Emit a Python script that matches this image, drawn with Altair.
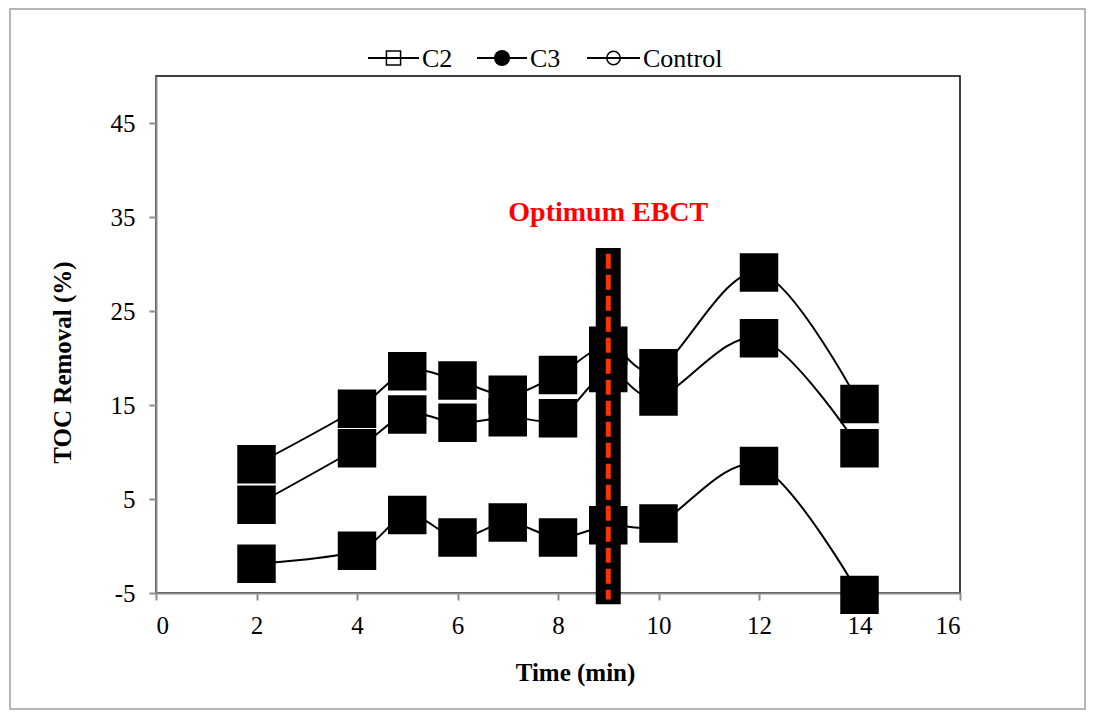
import altair as alt
import pandas as pd

# ---- data ----
time_min = [2, 4, 5, 6, 7, 8, 9, 10, 12, 14]
c2 = [8.7, 14.6, 18.6, 17.6, 16.1, 18.2, 21.3, 18.9, 29.1, 15.1]
c3 = [4.4, 10.4, 14.0, 13.1, 13.7, 13.6, 18.4, 15.9, 22.1, 10.4]
control = [-1.9, -0.5, 3.3, 0.9, 2.5, 0.9, 2.2, 2.4, 8.5, -5.2]
series_names = ["C2", "C3", "Control"]
x_ticks = [0, 2, 4, 6, 8, 10, 12, 14, 16]
y_ticks = [-5, 5, 15, 25, 35, 45]
optimum_time = 9
annotation_text = "Optimum EBCT"

rows = []
for name, vals in zip(series_names, [c2, c3, control]):
    for t, v in zip(time_min, vals):
        rows.append({"series": name, "time": t, "toc": v})
df = pd.DataFrame(rows)

W, H = 804, 517
FONT = "Liberation Serif"
AXIS_GRAY = "#8c8c8c"

x_enc = alt.X(
    "time:Q",
    scale=alt.Scale(domain=[0, 16], nice=False, zero=False),
    axis=alt.Axis(values=x_ticks, title="Time (min)", labelExpr="datum.value + ''",
                  titleX=419, titleY=79, titleBaseline="middle", titleAlign="center",
                  labelPadding=13),
)
y_enc = alt.Y(
    "toc:Q",
    scale=alt.Scale(domain=[-5, 50], nice=False, zero=False),
    axis=alt.Axis(values=y_ticks, title="TOC Removal (%)", labelExpr="datum.value + ''",
                  titleX=-94, titleY=286, titleAngle=-90, titleBaseline="middle",
                  titleAlign="center", labelPadding=14),
)

base = alt.Chart(df)
lines = base.mark_line(interpolate="cardinal", color="black", strokeWidth=2, clip=False).encode(
    x=x_enc, y=y_enc, detail="series:N"
)
points = base.mark_point(shape="square", size=1480, filled=True, color="black",
                         opacity=1, clip=False).encode(x="time:Q", y="toc:Q", detail="series:N")

one = alt.Chart(pd.DataFrame({"k": [0]}))

bar = one.mark_rule(color="black", strokeWidth=25, clip=False).encode(
    x=alt.datum(optimum_time), y=alt.datum(31.7), y2=alt.datum(-6.2)
)
dash = one.mark_rule(color="#ff3300", strokeWidth=5, strokeDash=[15, 6], clip=False).encode(
    x=alt.datum(optimum_time), y=alt.datum(31.1), y2=alt.datum(-5.7)
)
label = one.mark_text(font=FONT, fontSize=28, fontWeight="bold", color="#ff0000",
                      align="center", baseline="middle").encode(
    x=alt.datum(optimum_time), y=alt.datum(35.4), text=alt.value(annotation_text)
)

# legend (manual, drawn above the plot)
legend_layers = []
legend_spec = [
    ("C2", 212, 263, "square", False, 200),
    ("C3", 321, 371, "circle", True, 260),
    ("Control", 431, 484, "circle", False, 180),
]
LY = -18
for name, x0, x1, shape, filled, size in legend_spec:
    legend_layers.append(one.mark_rule(color="black", strokeWidth=2).encode(
        x=alt.value(x0), x2=alt.value(x1), y=alt.value(LY)))
    legend_layers.append(one.mark_point(shape=shape, size=size, filled=filled, color="black",
                                        strokeWidth=1.5, opacity=1).encode(
        x=alt.value((x0 + x1) / 2), y=alt.value(LY)))
    legend_layers.append(one.mark_text(font=FONT, fontSize=26, align="left", baseline="middle",
                                       color="black").encode(
        x=alt.value(x1 + 3), y=alt.value(LY + 1), text=alt.value(name)))

border = one.mark_rect(fillOpacity=0, stroke="#a0a0a0", strokeWidth=1.5).encode(
    x=alt.value(-146), x2=alt.value(929), y=alt.value(-67), y2=alt.value(633)
)

chart = alt.layer(border, lines, points, bar, dash, label, *legend_layers).properties(
    width=W, height=H,
    autosize=alt.AutoSizeParams(type="none"),
    padding={"left": 148, "top": 68, "right": 128, "bottom": 117},
).configure_view(
    stroke="black", strokeWidth=1.5
).configure_axis(
    grid=False, domainColor=AXIS_GRAY, domainWidth=2, tickColor=AXIS_GRAY, tickWidth=2,
    tickSize=7, labelFont=FONT, labelFontSize=25, labelColor="black",
    titleFont=FONT, titleFontSize=25, titleFontWeight="bold", titleColor="black",
)

chart.save("out.html", embed_options={"renderer": "svg", "actions": False})
